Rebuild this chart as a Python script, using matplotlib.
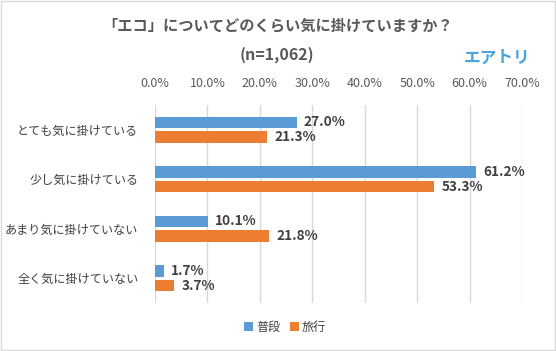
import matplotlib.pyplot as plt
import numpy as np
from matplotlib.patches import Rectangle

plt.rcParams['font.family'] = ['Noto Sans CJK JP', 'DejaVu Sans']

categories = ["とても気に掛けている", "少し気に掛けている", "あまり気に掛けていない", "全く気に掛けていない"]
normal = [27.0, 61.2, 10.1, 1.7]
travel = [21.3, 53.3, 21.8, 3.7]
series_names = ["普段", "旅行"]
xticks = [0, 10, 20, 30, 40, 50, 60, 70]

blue = "#5b9bd5"
orange = "#ed7d31"
text_col = "#404040"

fig = plt.figure(figsize=(5.56, 3.51), dpi=100)
ax = fig.add_axes([0.2788, 0.1368, 0.66, 0.564])

y = np.arange(len(categories))
h = 0.23
off = 0.15
ax.barh(y - off, normal, height=h, color=blue, label=series_names[0], zorder=3)
ax.barh(y + off, travel, height=h, color=orange, label=series_names[1], zorder=3)

for yi, v in zip(y - off, normal):
    ax.text(v + 1.4, yi, f"{v:.1f}%", va="center", ha="left", fontsize=9.8,
            fontweight="bold", color=text_col)
for yi, v in zip(y + off, travel):
    ax.text(v + 1.4, yi, f"{v:.1f}%", va="center", ha="left", fontsize=9.8,
            fontweight="bold", color=text_col)

ax.set_xlim(0, 70)
ax.set_ylim(3.5, -0.5)
ax.set_xticks(xticks)
ax.set_xticklabels([f"{t:.1f}%" for t in xticks], color="#595959", fontsize=9)
ax.xaxis.tick_top()
ax.tick_params(axis="x", length=0, pad=11)
ax.set_yticks(y)
ax.set_yticklabels(categories, color=text_col, fontsize=8.7)
ax.tick_params(axis="y", length=0, pad=12)
ax.grid(axis="x", color="#d9d9d9", linewidth=1, zorder=0)
for s in ax.spines.values():
    s.set_visible(False)

fig.text(0.5, 0.928, "「エコ」についてどのくらい気に掛けていますか？", ha="center", va="center",
         fontsize=11, fontweight="bold", color="#595959")
fig.text(0.498, 0.843, "(n=1,062)", ha="center", va="center", fontsize=11.5,
         fontweight="bold", color="#595959")
fig.text(0.894, 0.835, "エアトリ", ha="center", va="center", fontsize=12,
         fontweight="bold", color="#4aa3df")

fig.legend(loc="center", bbox_to_anchor=(0.513, 0.068), ncol=2, frameon=False,
           fontsize=8.7, handlelength=0.7, handleheight=0.7, handletextpad=0.3,
           columnspacing=0.8, labelcolor=text_col)

fig.patches.append(Rectangle((0.001, 0.002), 0.997, 0.995, transform=fig.transFigure,
                             fill=False, edgecolor="#d9d9d9", linewidth=1))

fig.savefig("out.png", dpi=100)
